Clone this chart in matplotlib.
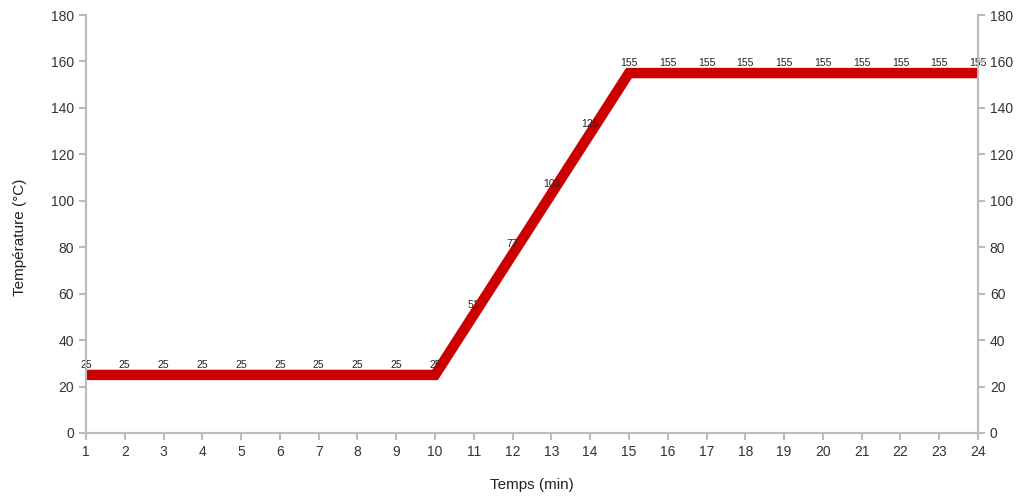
import matplotlib
matplotlib.use("Agg")
import matplotlib.pyplot as plt

plt.rcParams['font.family'] = ['Liberation Sans', 'DejaVu Sans']

minutes = list(range(1, 25))
temps = [25, 25, 25, 25, 25, 25, 25, 25, 25, 25,
         51, 77, 103, 129,
         155, 155, 155, 155, 155, 155, 155, 155, 155, 155]
yticks = list(range(0, 181, 20))

fig = plt.figure(figsize=(10.22, 4.97), dpi=100)
ax = fig.add_axes([0.0841, 0.1288, 0.957 - 0.0841, 0.9698 - 0.1288])
grey = '#bbbbbb'
ax.plot(minutes, temps, color='#cc0000', linewidth=7.5, solid_capstyle='butt',
        solid_joinstyle='miter', zorder=3)
for x, y in zip(minutes, temps):
    ax.annotate(str(y), (x, y), xytext=(0, 3.5), textcoords='offset points',
                ha='center', va='bottom', fontsize=7.5, color='#222222', zorder=4)

ax.set_xlim(1, 24)
ax.set_ylim(0, 180)
ax.set_xticks(minutes)
ax.set_yticks(yticks)
ax.set_xlabel('Temps (min)', fontsize=11, color='#222222', labelpad=14)
ax.set_ylabel('Température (°C)', fontsize=11, color='#222222')
ax.yaxis.set_label_coords(-0.066, 0.469)

ax2 = ax.twinx()
ax2.set_ylim(0, 180)
ax2.set_yticks(yticks)

for a in (ax, ax2):
    a.spines['top'].set_visible(False)
    for s in ('left', 'right', 'bottom'):
        a.spines[s].set_color(grey)
        a.spines[s].set_linewidth(1.5)
    a.tick_params(axis='both', colors=grey, labelcolor='#333333', labelsize=10,
                  length=5, width=1.5, direction='out')

fig.savefig('out.png', dpi=100)
